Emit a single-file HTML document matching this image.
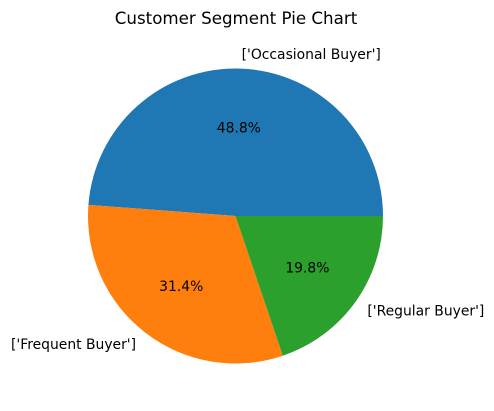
<!DOCTYPE html>
<html><head><meta charset="utf-8"><style>
html,body{margin:0;padding:0;background:#fff;}
svg{display:block;font-family:"DejaVu Sans","Liberation Sans",sans-serif;}
</style></head><body>
<svg id="chart" width="494" height="411" viewBox="0 0 494 411">
<text x="236" y="24" text-anchor="middle" font-size="16.7" fill="#000">Customer Segment Pie Chart</text>
<g id="slices"></g>
</svg>
<script>
const categories = ["['Occasional Buyer']", "['Frequent Buyer']", "['Regular Buyer']"];
const values = [48.8, 31.4, 19.8];
const colors = ["#1f77b4", "#ff7f0e", "#2ca02c"];
const cx = 235.5, cy = 216, r = 147.5;
const g = document.getElementById('slices');
const NS = 'http://www.w3.org/2000/svg';
const total = values.reduce((a, b) => a + b, 0);
let start = 0;
function pt(a, rr) { return [cx + rr * Math.cos(a), cy - rr * Math.sin(a)]; }
values.forEach((v, i) => {
  const sweep = v / total * 2 * Math.PI;
  const end = start + sweep;
  const [x1, y1] = pt(start, r), [x2, y2] = pt(end, r);
  const large = sweep > Math.PI ? 1 : 0;
  const p = document.createElementNS(NS, 'path');
  p.setAttribute('d', `M${cx},${cy} L${x1},${y1} A${r},${r} 0 ${large} 0 ${x2},${y2} Z`);
  p.setAttribute('fill', colors[i]);
  
  
  g.appendChild(p);
  const mid = start + sweep / 2;
  const [lx, ly] = pt(mid, r * 1.1);
  const t = document.createElementNS(NS, 'text');
  t.setAttribute('x', lx);
  t.setAttribute('y', ly + 5);
  t.setAttribute('font-size', '13.9');
  t.setAttribute('text-anchor', Math.cos(mid) >= 0 ? 'start' : 'end');
  t.textContent = categories[i];
  
  
  g.appendChild(t);
  const [px, py] = pt(mid, r * 0.6);
  const pc = document.createElementNS(NS, 'text');
  pc.setAttribute('x', px);
  pc.setAttribute('y', py + 5);
  pc.setAttribute('font-size', '13.9');
  pc.setAttribute('text-anchor', 'middle');
  pc.textContent = (v / total * 100).toFixed(1) + '%';
  
  
  g.appendChild(pc);
  start = end;
});
</script>
</body></html>
